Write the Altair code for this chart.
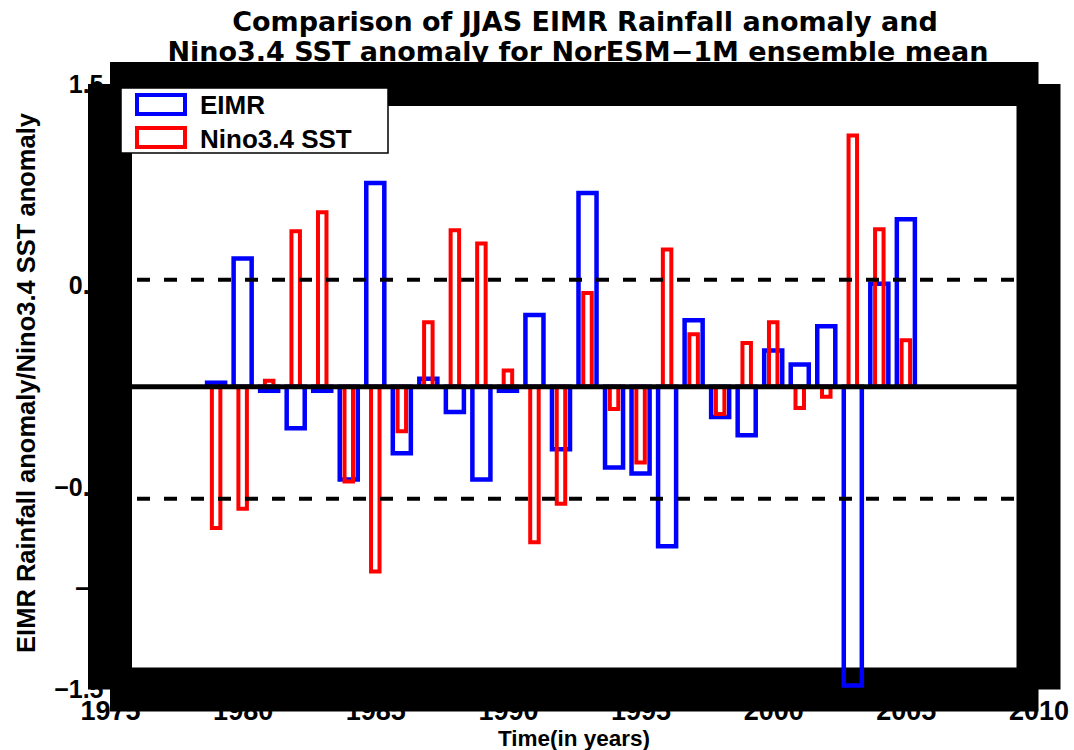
import altair as alt
import pandas as pd

# ---- data -------------------------------------------------------------
years = list(range(1979, 2006))
eimr = [0.02, 0.635, -0.02, -0.205, -0.02, -0.46, 1.01, -0.33, 0.04, -0.125,
        -0.46, -0.02, 0.355, -0.31, 0.96, -0.40, -0.43, -0.79, 0.33, -0.15,
        -0.24, 0.18, 0.11, 0.30, -1.48, 0.51, 0.83]
nino = [-0.70, -0.605, 0.03, 0.77, 0.865, -0.47, -0.915, -0.22, 0.32, 0.775,
        0.71, 0.08, -0.77, -0.58, 0.465, -0.11, -0.375, 0.68, 0.26, -0.135,
        0.217, 0.32, -0.105, -0.05, 1.245, 0.78, 0.23]
thresholds = [0.53, -0.555]
xlim = [1975, 2010]
ylim = [-1.5, 1.5]
xticks = [1975, 1980, 1985, 1990, 1995, 2000, 2005, 2010]
yticks = [-1.5, -1.0, -0.5, 0.0, 0.5, 1.0, 1.5]

bars = pd.DataFrame({"year": years, "eimr": eimr, "nino": nino})
frame = pd.DataFrame({
    "x": [xlim[0], xlim[0], xlim[0], xlim[1]],
    "x2": [xlim[1], xlim[1], xlim[0], xlim[1]],
    "y": [ylim[1], ylim[0], ylim[0], ylim[0]],
    "y2": [ylim[1], ylim[0], ylim[1], ylim[1]],
})
thr = pd.DataFrame({"v": thresholds, "a": xlim[0], "b": xlim[1]})
zero = pd.DataFrame({"v": [0.0], "a": [xlim[0]], "b": [xlim[1]]})
one = pd.DataFrame({"k": [0]})

BOLD = "Liberation Sans"

xs = alt.Scale(domain=xlim, nice=False, zero=False)
ys = alt.Scale(domain=ylim, nice=False, zero=False)
xaxis = alt.Axis(values=xticks, title=None, ticks=False, tickSize=0, domain=False,
                 grid=False, labelFont=BOLD, labelFontWeight="bold",
                 labelFontSize=27, labelColor="black", labelPadding=30,
                 labelBaseline="alphabetic", labelFlush=False,
                 labelOverlap=False, format="d")
yaxis = alt.Axis(values=yticks, title=None, ticks=False, tickSize=0, domain=False,
                 grid=False, labelFont=BOLD, labelFontWeight="bold",
                 labelFontSize=25, labelColor="black", labelPadding=7,
                 labelFlush=False, labelOverlap=False, format=".1~f")


def txt(text, x, y, size, angle=0, align="center", font=BOLD):
    return alt.Chart(one).mark_text(
        text=text, font=font, fontWeight="bold", fontSize=size,
        color="black", align=align, baseline="alphabetic", angle=angle,
    ).encode(x=alt.value(x), y=alt.value(y))


title1 = txt("Comparison of JJAS EIMR Rainfall anomaly and", 475, -53, 27,
             font="DejaVu Sans")
title2 = txt("Nino3.4 SST anomaly for NorESM\u22121M ensemble mean", 468, -23, 27,
             font="DejaVu Sans")
xtitle = txt("Time(in years)", 464, 662, 22.5)
ytitle = alt.Chart(one).mark_text(
    text="EIMR Rainfall anomaly/Nino3.4 SST anomaly", font=BOLD,
    fontWeight="bold", fontSize=25.5, color="black", align="center",
    baseline="middle", angle=270,
).encode(x=alt.value(-83), y=alt.value(299))

# heavy axes box
box = alt.Chart(frame).mark_rule(color="black", strokeWidth=44, strokeCap="butt").encode(
    x=alt.X("x:Q", scale=xs, axis=xaxis), x2="x2:Q",
    y=alt.Y("y:Q", scale=ys, axis=yaxis), y2="y2:Q",
)


def bar_layer(field, half, color, width):
    return alt.Chart(bars).transform_calculate(
        xa=f"datum.year - {half}", xb=f"datum.year + {half}", base="0"
    ).mark_bar(filled=False, stroke=color, strokeWidth=width, strokeJoin="miter").encode(
        x=alt.X("xa:Q", scale=xs, axis=xaxis), x2="xb:Q",
        y=alt.Y(f"{field}:Q", scale=ys, axis=yaxis), y2="base:Q",
    )


blue = bar_layer("eimr", 0.34, "#0000ff", 4.5)
red = bar_layer("nino", 0.16, "#ff0000", 4)

dashed = alt.Chart(thr).mark_rule(color="black", strokeWidth=4, strokeDash=[13, 14],
                                  strokeCap="butt").encode(
    x=alt.X("a:Q", scale=xs, axis=xaxis), x2="b:Q",
    y=alt.Y("v:Q", scale=ys, axis=yaxis),
)
zline = alt.Chart(zero).mark_rule(color="black", strokeWidth=5).encode(
    x=alt.X("a:Q", scale=xs, axis=xaxis), x2="b:Q",
    y=alt.Y("v:Q", scale=ys, axis=yaxis),
)

# legend
leg_box = alt.Chart(one).mark_rect(fill="white", stroke="black", strokeWidth=1.5).encode(
    x=alt.value(11), x2=alt.value(278), y=alt.value(4), y2=alt.value(69))
leg_blue = alt.Chart(one).mark_rect(fill="white", stroke="#0000ff", strokeWidth=4).encode(
    x=alt.value(27), x2=alt.value(75), y=alt.value(11), y2=alt.value(30))
leg_red = alt.Chart(one).mark_rect(fill="white", stroke="#ff0000", strokeWidth=4).encode(
    x=alt.value(27), x2=alt.value(75), y=alt.value(44), y2=alt.value(63))
leg_t1 = txt("EIMR", 90, 30, 26, align="left")
leg_t2 = txt("Nino3.4 SST", 90, 64, 26, align="left")

chart = alt.layer(
    title1, title2, xtitle, ytitle, box, blue, red, dashed, zline,
    leg_box, leg_blue, leg_red, leg_t1, leg_t2,
).properties(
    width=928.5, height=605.5,
    padding={"left": 110, "top": 84, "right": 35.5, "bottom": 60.5},
    autosize=alt.AutoSizeParams(type="none"),
    background="white",
).configure_view(stroke=None)

chart.save("out.html", embed_options={"renderer": "svg", "actions": False})
